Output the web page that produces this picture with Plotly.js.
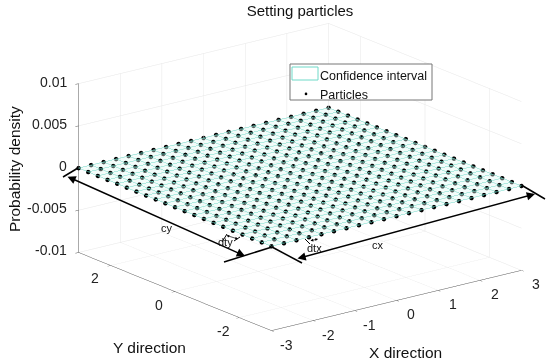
<!DOCTYPE html>
<html><head><meta charset="utf-8"><script src="https://cdn.plot.ly/plotly-3.0.1.min.js"></script>
<style>html,body{margin:0;padding:0;background:#fff}#c{width:550px;height:363px}</style></head><body><div id="c"></div>
<script>
const gridX=[-3,-2.7,-2.4,-2.1,-1.8,-1.5,-1.2,-0.9,-0.6,-0.3,0,0.3,0.6,0.9,1.2,1.5,1.8,2.1,2.4,2.7,3];
const gridY=[-3,-2.7,-2.4,-2.1,-1.8,-1.5,-1.2,-0.9,-0.6,-0.3,0,0.3,0.6,0.9,1.2,1.5,1.8,2.1,2.4,2.7,3];
const density=0;
const xTicks=[-3,-2,-1,0,1,2,3];
const yTicks=[-2,0,2];
const zTicks=[-0.01,-0.005,0,0.005,0.01];
const zLabels=['-0.01','-0.005','0','0.005','0.01'];
const W=550,H=363,FONT='Liberation Sans',INK='#222',MESH='#6fd9c8',FACE='#e2f7f3';
const surfaceZ=gridY.map(()=>gridX.map(()=>density));
const px=[],py=[],pz=[];
gridX.forEach(a=>gridY.forEach(b=>{px.push(a);py.push(b);pz.push(density)}));
const ax={showbackground:false,showspikes:false,gridcolor:'#e6e6e6',gridwidth:1,linecolor:'#555',linewidth:1,zeroline:false,ticks:'inside',ticklen:4,tickcolor:'#555',showticklabels:false,title:{text:''},showline:true};
const traces=[
{type:'surface',x:gridX,y:gridY,z:surfaceZ,opacity:0.4,showscale:false,cmin:-1,cmax:1,colorscale:[[0,FACE],[1,FACE]],lighting:{ambient:1,diffuse:0,specular:0,roughness:1,fresnel:0},hoverinfo:'skip',
 contours:{x:{show:true,start:-3,end:3.001,size:0.3,color:MESH,width:1},y:{show:true,start:-3,end:3.001,size:0.3,color:MESH,width:1},z:{show:false}}},
{type:'scatter3d',mode:'markers',x:px,y:py,z:pz,marker:{color:'#000',size:2.6},name:'Particles',hoverinfo:'skip'},
{type:'scatter',mode:'lines',x:[null],y:[null],line:{color:MESH,width:0},name:'Confidence interval',xaxis:'x',yaxis:'y',hoverinfo:'skip'}
];
const px2x=v=>v/W, px2y=v=>1-v/H;
const sa=[];
const tk=(x,y,z,text,xs,ys,anchor)=>sa.push({x,y,z,text,showarrow:false,xshift:xs,yshift:ys,xanchor:anchor||'center',yanchor:'middle',font:{family:FONT,size:14,color:INK}});
zTicks.forEach((v,i)=>tk(-3,3,v,zLabels[i],-10,2,'right'));
xTicks.forEach(v=>tk(v,-3,-0.01,String(v),15,-14));
yTicks.forEach(v=>tk(-3,v,-0.01,String(v),-15.5,-13));
const line=(x0,y0,x1,y1,w)=>({type:'line',xref:'paper',yref:'paper',x0:px2x(x0),y0:px2y(y0),x1:px2x(x1),y1:px2y(y1),line:{color:'#000',width:w||1.5}});
const shapes=[
{type:'rect',xref:'paper',yref:'paper',x0:px2x(290),y0:px2y(64),x1:px2x(432),y1:px2y(100),fillcolor:'#fff',line:{color:'#777',width:1}},
{type:'rect',xref:'paper',yref:'paper',x0:px2x(292),y0:px2y(67),x1:px2x(318),y1:px2y(80),fillcolor:'#fff',line:{color:MESH,width:1}},
line(78,168,63,177),line(272,247,224,262),line(272,247,302,263),line(523,186,545,199),
line(222,242,227,234,1),line(234,241,240,237,1),line(305,239,310,244,1)
];
const arrow=(x0,y0,x1,y1,w,s)=>({xref:'paper',yref:'paper',axref:'paper',ayref:'paper',x:px2x(x1),y:px2y(y1),ax:px2x(x0),ay:px2y(y0),text:'',showarrow:true,arrowside:'end+start',arrowhead:2,arrowsize:s||1.1,arrowwidth:w||1.5,arrowcolor:'#000'});
const label=(t,x,y,s,a)=>Object.assign({xref:'paper',yref:'paper',x:px2x(x),y:px2y(y),text:t,showarrow:false,xanchor:'center',yanchor:'middle',font:{family:FONT,size:s,color:'#111'}},a||{});
const annotations=[
arrow(66,176,245,256),arrow(296,259,535,194),arrow(225,235,238,239,0.7,0.8),arrow(309,241,318,239,0.7,0.8),
label('cy',167,228,11),label('dty',225,242,11),label('dtx',314,248,11),label('cx',378,245,11),
label('Y direction',149,347,15.5),label('X direction',405,352,15.5),label('Probability density',15,169,15.5,{textangle:-90})
];
const layout={width:W,height:H,margin:{l:0,r:0,t:0,b:0},paper_bgcolor:'#fff',plot_bgcolor:'rgba(0,0,0,0)',showlegend:true,
xaxis:{visible:false,domain:[0,0.01]},yaxis:{visible:false,domain:[0,0.01]},
legend:{x:280/W,y:1-60/H,xanchor:'left',yanchor:'top',bgcolor:'rgba(0,0,0,0)',borderwidth:0,traceorder:'reversed',font:{family:FONT,size:12.5,color:'#111'}},
title:{text:'Setting particles',font:{family:FONT,size:15,color:'#111'},x:300/W,y:1-11/H,xanchor:'center',yanchor:'middle'},
shapes,annotations,
scene:{domain:{x:[50/W,1],y:[9/H,1]},aspectmode:'manual',aspectratio:{x:1.784,y:1.784,z:1.004},annotations:sa,
camera:{projection:{type:'orthographic'},eye:{x:-1.16,y:-1.504,z:0.625},center:{x:0,y:0,z:0},up:{x:0,y:0,z:1}},
xaxis:Object.assign({},ax,{range:[-3,3],tickvals:xTicks}),
yaxis:Object.assign({},ax,{range:[-3,3],tickvals:yTicks}),
zaxis:Object.assign({},ax,{range:[-0.01,0.01],tickvals:zTicks})}};
Plotly.newPlot('c',traces,layout,{displayModeBar:false}).then(()=>{
document.querySelectorAll('.legend .legendsymbols').forEach(e=>e.setAttribute('transform','translate(6,0)'));
});
</script></body></html>
